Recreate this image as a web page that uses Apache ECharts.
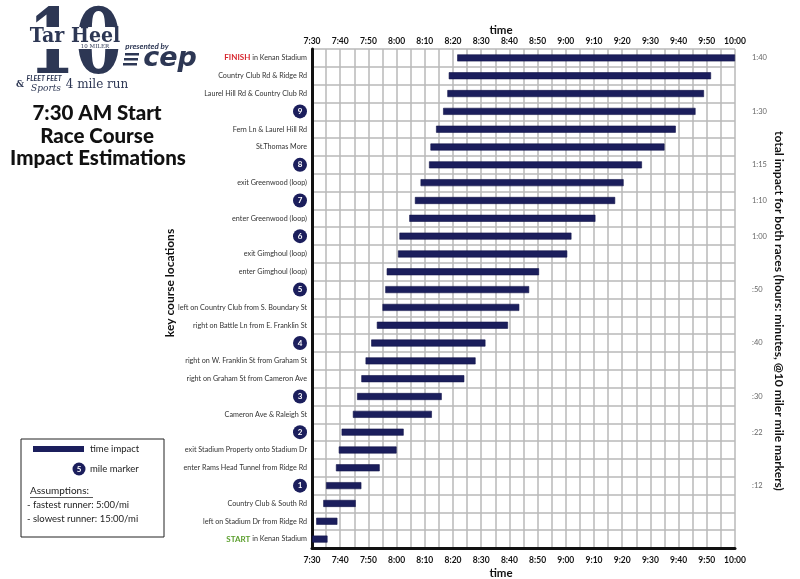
<!DOCTYPE html>
<html><head><meta charset="utf-8">
<script src="https://cdn.jsdelivr.net/npm/echarts@6/dist/echarts.min.js"></script>
<style>html,body{margin:0;padding:0;background:#fff}#c{width:800px;height:579px}</style>
</head><body><div id="c"></div>
<script>
// rows listed top -> bottom
const locations = ['FINISH in Kenan Stadium','Country Club Rd & Ridge Rd','Laurel Hill Rd & Country Club Rd','9','Fern Ln & Laurel Hill Rd','St.Thomas More','8','exit Greenwood (loop)','7','enter Greenwood (loop)','6','exit Gimghoul (loop)','enter Gimghoul (loop)','5','left on Country Club from S. Boundary St','right on Battle Ln from E. Franklin St','4','right on W. Franklin St from Graham St','right on Graham St from Cameron Ave','3','Cameron Ave & Raleigh St','2','exit Stadium Property onto Stadium Dr','enter Rams Head Tunnel from Ridge Rd','1','Country Club & South Rd','left on Stadium Dr from Ridge Rd','START in Kenan Stadium'];
// minutes after 7:30
const startMin = [51.5,48.5,48,46.5,44,42,41.5,38.5,36.5,34.5,31,30.5,26.5,26,25,23,21,19,17.5,16,14.5,10.5,9.5,8.5,5,4,1.5,0];
const endMin   = [150,141.5,139,136,129,125,117,110.5,107.5,100.5,92,90.5,80.5,77,73.5,69.5,61.5,58,54,46,42.5,32.5,30,24,17.5,15.5,9,5.5];
const impactLabels = ['1:40','','','1:30','','','1:15','','1:10','','1:00','','',':50','','',':40','','',':30','',':22','','',':12','','',''];
const timeTicks = ['7:30','7:40','7:50','8:00','8:10','8:20','8:30','8:40','8:50','9:00','9:10','9:20','9:30','9:40','9:50','10:00'];

const NAVY = '#1b1e5c';
const FONT = 'Lato';
const duration = endMin.map((e,i)=>e-startMin[i]);
const tickFmt = v => (v % 10 === 0 ? timeTicks[v/10] : '');

const chart = echarts.init(document.getElementById('c'), null, {renderer:'canvas'});
const xCommon = {type:'value', min:0, max:150, interval:5};
chart.setOption({
  animation:false,
  textStyle:{fontFamily:FONT},
  grid:{left:312, right:65, top:49, bottom:31, containLabel:false},
  xAxis:[
    Object.assign({}, xCommon, {position:'bottom',
      axisLine:{show:true, onZero:false, lineStyle:{color:'#111', width:3}},
      axisTick:{show:false},
      axisLabel:{formatter:tickFmt, fontFamily:FONT, fontWeight:'bold', fontSize:8.5, color:'#111', margin:8, showMinLabel:true, showMaxLabel:true},
      splitLine:{show:true, lineStyle:{color:'#b9b9b9', width:1.5}}}),
    Object.assign({}, xCommon, {position:'top',
      axisLine:{show:false}, axisTick:{show:false},
      axisLabel:{formatter:tickFmt, fontFamily:FONT, fontWeight:'bold', fontSize:8.5, color:'#111', margin:3, showMinLabel:true, showMaxLabel:true},
      splitLine:{show:false}})
  ],
  yAxis:[
    {type:'category', data:locations, inverse:true, position:'left',
     axisLine:{show:true, lineStyle:{color:'#111', width:3}},
     axisTick:{show:false},
     splitLine:{show:true, lineStyle:{color:'#b9b9b9', width:1.5}},
     axisLabel:{interval:0, margin:5, fontFamily:FONT, fontSize:7.2, color:'#333',
       formatter:(v)=>{
         if (/^\d+$/.test(v)) return '{m|'+v+'}';
         if (v.indexOf('FINISH')===0) return '{f|FINISH}'+v.slice(6);
         if (v.indexOf('START')===0) return '{s|START}'+v.slice(5);
         return v;
       },
       rich:{
         m:{backgroundColor:NAVY, color:'#fff', borderRadius:7, width:14, height:14, lineHeight:14, align:'center', fontSize:8, fontWeight:'bold', fontFamily:FONT},
         f:{color:'#d7262e', fontWeight:'bold', fontSize:8, fontFamily:FONT},
         s:{color:'#5a9e2c', fontWeight:'bold', fontSize:8, fontFamily:FONT}
       }}},
    {type:'category', data:locations, inverse:true, position:'right',
     axisLine:{show:false}, axisTick:{show:false}, splitLine:{show:false},
     axisLabel:{interval:0, margin:17, fontFamily:FONT, fontSize:7.5, color:'#666',
       formatter:(v,i)=>impactLabels[i]}}
  ],
  series:[
    {type:'bar', name:'offset', stack:'t', data:startMin, barWidth:7, itemStyle:{color:'rgba(0,0,0,0)'}, silent:true, xAxisIndex:0, yAxisIndex:0},
    {type:'bar', name:'time impact', stack:'t', data:duration, barWidth:7, itemStyle:{color:NAVY, borderColor:'#12144a', borderWidth:0.6}, xAxisIndex:0, yAxisIndex:0}
  ],
  graphic:[
    // axis titles
    {type:'text', x:501, y:30, style:{text:'time', font:'bold 11.5px '+FONT, fill:'#111', align:'center', verticalAlign:'middle'}},
    {type:'text', x:501, y:573, style:{text:'time', font:'bold 11.5px '+FONT, fill:'#111', align:'center', verticalAlign:'middle'}},
    {type:'text', x:170, y:283, rotation:Math.PI/2, style:{text:'key course locations', font:'bold 12px '+FONT, fill:'#111', align:'center', verticalAlign:'middle'}},
    {type:'text', x:779, y:311, rotation:-Math.PI/2, style:{text:'total impact for both races (hours: minutes, @10 miler mile markers)', font:'bold 12px '+FONT, fill:'#111', align:'center', verticalAlign:'middle'}},
    // logo
    {type:'text', x:75, y:50, scaleX:0.75, style:{text:'10', font:'bold 90px "DejaVu Serif"', fill:'#2d3754', align:'center', verticalAlign:'middle'}},
    {type:'rect', shape:{x:29, y:27, width:92, height:22}, style:{fill:'#fff'}},
    {type:'text', x:75, y:37, scaleX:0.95, style:{text:'Tar Heel', font:'bold 20px "DejaVu Serif"', fill:'#2d3754', align:'center', verticalAlign:'middle'}},
    {type:'text', x:95, y:47, style:{text:'10 MILER', font:'5.5px "DejaVu Serif"', fill:'#2d3754', align:'center', verticalAlign:'middle'}},
    {type:'text', x:147, y:46, style:{text:'presented by', font:'italic bold 8px '+FONT, fill:'#2d3754', align:'center', verticalAlign:'middle'}},
    {type:'text', x:170, y:59, style:{text:'cep', font:'italic bold 27px "DejaVu Sans"', fill:'#2d3754', align:'center', verticalAlign:'middle'}},
    {type:'rect', shape:{x:125, y:53, width:14, height:2.5}, style:{fill:'#2d3754'}},
    {type:'rect', shape:{x:124, y:58, width:14, height:2.5}, style:{fill:'#2d3754'}},
    {type:'rect', shape:{x:123, y:63, width:14, height:2.5}, style:{fill:'#2d3754'}},
    {type:'text', x:20, y:85, style:{text:'&', font:'bold 9px "DejaVu Serif"', fill:'#2d3754', align:'center', verticalAlign:'middle'}},
    {type:'text', x:44, y:79, style:{text:'FLEET FEET', font:'italic bold 7px '+FONT, fill:'#2d3754', align:'center', verticalAlign:'middle'}},
    {type:'text', x:46, y:89, style:{text:'Sports', font:'italic 9px "DejaVu Serif"', fill:'#2d3754', align:'center', verticalAlign:'middle'}},
    {type:'text', x:97, y:85, style:{text:'4 mile run', font:'12px "DejaVu Serif"', fill:'#2d3754', align:'center', verticalAlign:'middle'}},
    // title
    {type:'text', x:97, y:113, style:{text:'7:30 AM Start', font:'900 20.5px '+FONT, fill:'#111', align:'center', verticalAlign:'middle'}},
    {type:'text', x:97, y:136, style:{text:'Race Course', font:'900 20.5px '+FONT, fill:'#111', align:'center', verticalAlign:'middle'}},
    {type:'text', x:98, y:158, style:{text:'Impact Estimations', font:'900 20.5px '+FONT, fill:'#111', align:'center', verticalAlign:'middle'}},
    // legend box
    {type:'rect', shape:{x:21, y:439, width:143, height:98}, style:{fill:'#fff', stroke:'#222', lineWidth:1}},
    {type:'rect', shape:{x:33, y:446, width:51, height:6}, style:{fill:NAVY}},
    {type:'text', x:90, y:449, style:{text:'time impact', font:'9.5px '+FONT, fill:'#222', verticalAlign:'middle'}},
    {type:'circle', shape:{cx:79, cy:469, r:6.5}, style:{fill:NAVY}},
    {type:'text', x:79, y:469, style:{text:'5', font:'bold 8px '+FONT, fill:'#fff', align:'center', verticalAlign:'middle'}},
    {type:'text', x:90, y:469, style:{text:'mile marker', font:'9.5px '+FONT, fill:'#222', verticalAlign:'middle'}},
    {type:'text', x:30, y:491, style:{text:'Assumptions:', font:'10px '+FONT, fill:'#222', verticalAlign:'middle'}},
    {type:'rect', shape:{x:30, y:497, width:63, height:0.8}, style:{fill:'#222'}},
    {type:'text', x:27, y:505, style:{text:'- fastest runner: 5:00/mi', font:'9.5px '+FONT, fill:'#222', verticalAlign:'middle'}},
    {type:'text', x:27, y:519, style:{text:'- slowest runner: 15:00/mi', font:'9.5px '+FONT, fill:'#222', verticalAlign:'middle'}}
  ]
});
</script>
</body></html>
